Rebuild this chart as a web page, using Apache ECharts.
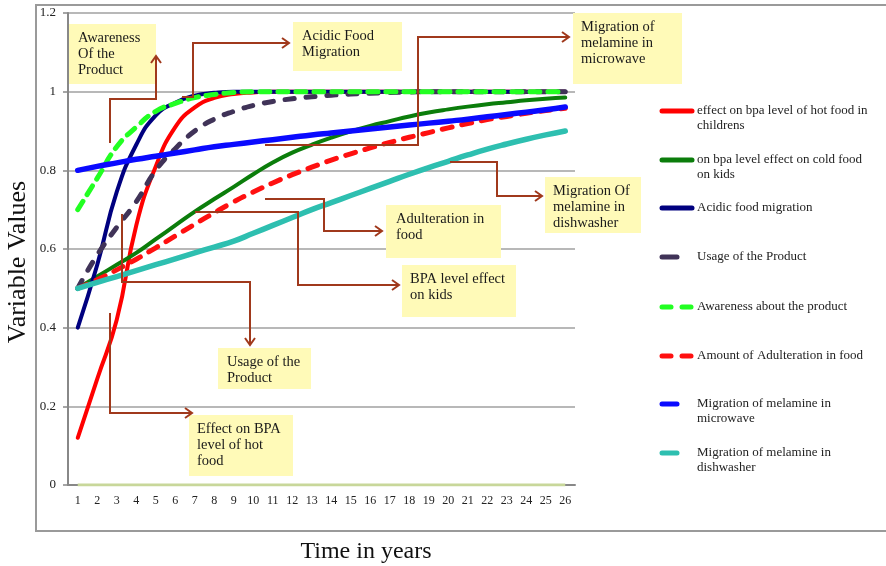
<!DOCTYPE html>
<html><head><meta charset="utf-8">
<script src="https://cdn.jsdelivr.net/npm/echarts@6/dist/echarts.min.js"></script>
<style>html,body{margin:0;padding:0;background:#fff}#c{width:886px;height:566px}</style>
</head><body><div id="c"></div>
<script>
const years = ['1','2','3','4','5','6','7','8','9','10','11','12','13','14','15','16','17','18','19','20','21','22','23','24','25','26'];
const yTicks = [0, 0.2, 0.4, 0.6, 0.8, 1, 1.2];

const hotFood = [0.12,0.27,0.42,0.66,0.81,0.91,0.96,0.984,0.994,0.998,1,1,1,1,1,1,1,1,1,1,1,1,1,1,1,1];
const coldFood = [0.50,0.53,0.56,0.59,0.625,0.66,0.695,0.727,0.758,0.79,0.82,0.845,0.865,0.883,0.899,0.913,0.925,0.937,0.947,0.955,0.962,0.968,0.973,0.978,0.982,0.985];
const acidic = [0.40,0.56,0.745,0.865,0.94,0.972,0.99,0.997,1,1,1,1,1,1,1,1,1,1,1,1,1,1,1,1,1,1];
const usage = [0.50,0.585,0.655,0.72,0.80,0.855,0.90,0.93,0.95,0.965,0.975,0.982,0.987,0.991,0.994,0.996,0.998,0.999,1,1,1,1,1,1,1,1];
const awareness = [0.70,0.78,0.86,0.91,0.95,0.97,0.985,0.993,0.998,1,1,1,1,1,1,1,1,1,1,1,1,1,1,1,1,1];
const adulteration = [0.50,0.522,0.547,0.574,0.603,0.633,0.663,0.692,0.72,0.745,0.768,0.789,0.808,0.826,0.842,0.857,0.871,0.884,0.896,0.908,0.919,0.929,0.937,0.945,0.952,0.958];
const microwave = [0.800,0.810,0.819,0.828,0.836,0.844,0.852,0.860,0.866,0.872,0.878,0.884,0.890,0.895,0.900,0.905,0.910,0.915,0.920,0.925,0.930,0.936,0.942,0.948,0.954,0.961];
const dishwasher = [0.50,0.515,0.53,0.545,0.56,0.575,0.59,0.605,0.62,0.64,0.66,0.68,0.70,0.718,0.736,0.754,0.772,0.79,0.807,0.823,0.839,0.854,0.867,0.879,0.89,0.90];
const baseline = [0,0,0,0,0,0,0,0,0,0,0,0,0,0,0,0,0,0,0,0,0,0,0,0,0,0];

const seriesNames = [
  'effect on bpa level of hot food in\nchildrens',
  'on bpa level effect on cold food\non kids',
  'Acidic food migration',
  'Usage of the Product',
  'Awareness about the product',
  'Amount of Adulteration in food',
  'Migration of melamine in\nmicrowave',
  'Migration of melamine in\ndishwasher'
];
const seriesData = [hotFood, coldFood, acidic, usage, awareness, adulteration, microwave, dishwasher];

const colors = ['#ff0000','#0b7d0b','#00007f','#403358','#22ff22','#ff1010','#0a0aff','#2ebfb0'];
const widths = [4,4,4,5,5,5,5.5,5.5];
const dashes = ['solid','solid','solid',[9,12],[10,8],[10,10],'solid','solid'];
const legendY = [111,160,208,257,307,356,404,453];
const legendKind = ['long','long','long','short','dash','dash','short','short'];

const annotations = [
  {lines:['Awareness','Of the','Product'], box:[69,24,87,60], tx:78, path:[[110,143],[110,99],[156,99],[156,56]], head:'up'},
  {lines:['Acidic Food','Migration'], box:[293,22,109,49], tx:302, path:[[182,97],[193,97],[193,43],[289,43]], head:'right'},
  {lines:['Migration of','melamine in','microwave'], box:[573,13,109,71], tx:581, path:[[265,145],[418,145],[418,37],[569,37]], head:'right'},
  {lines:['Migration Of','melamine in','dishwasher'], box:[545,177,96,56], tx:553, path:[[450,162],[497,162],[497,196],[542,196]], head:'right'},
  {lines:['Adulteration in','food'], box:[386,205,115,53], tx:396, path:[[265,199],[324,199],[324,231],[382,231]], head:'right'},
  {lines:['BPA level effect','on kids'], box:[402,265,114,52], tx:410, path:[[195,212],[298,212],[298,285],[399,285]], head:'right'},
  {lines:['Usage of the','Product'], box:[218,348,93,41], tx:227, path:[[122,214],[122,282],[250,282],[250,345]], head:'down'},
  {lines:['Effect on BPA','level of hot','food'], box:[189,415,104,61], tx:197, path:[[110,313],[110,413],[192,413]], head:'right'}
];

const chart = echarts.init(document.getElementById('c'), null, {renderer:'canvas'});
const serif = 'Liberation Serif, Times New Roman, serif';
const arrowColor = '#a0391c';

const series = seriesData.map((d, i) => ({
  name: seriesNames[i],
  type: 'line',
  data: d,
  symbol: 'none',
  smooth: true,
  lineStyle: {color: colors[i], width: widths[i], type: dashes[i], cap: 'round', join: 'round'},
  z: 3 + i
}));
series.unshift({
  name: 'base', type: 'line', data: baseline, symbol: 'none',
  lineStyle: {color: '#c8d79a', width: 3}, z: 2
});

const graphic = [];
graphic.push({type:'rect', shape:{x:36,y:5,width:870,height:526}, style:{fill:null, stroke:'#9a9a9a', lineWidth:2}, z:0, silent:true});
graphic.push({type:'text', x:18, y:262, rotation:Math.PI/2, style:{text:'Variable Values', font:'26px '+serif, fill:'#111', align:'center', verticalAlign:'middle'}, z:10});
graphic.push({type:'text', x:366, y:552, style:{text:'Time in years', font:'24px '+serif, fill:'#111', align:'center', verticalAlign:'middle'}, z:10});

seriesNames.forEach((nm, i) => {
  const y = legendY[i];
  const ls = {stroke: colors[i], lineWidth: 5, lineCap:'round'};
  if (legendKind[i] === 'long') {
    graphic.push({type:'line', shape:{x1:662,y1:y,x2:692,y2:y}, style:ls, z:10});
  } else if (legendKind[i] === 'short') {
    graphic.push({type:'line', shape:{x1:662,y1:y,x2:677,y2:y}, style:ls, z:10});
  } else {
    graphic.push({type:'line', shape:{x1:662,y1:y,x2:671,y2:y}, style:ls, z:10});
    graphic.push({type:'line', shape:{x1:682,y1:y,x2:691,y2:y}, style:ls, z:10});
  }
  graphic.push({type:'text', x:697, y:y-8, style:{text:nm, font:'13px '+serif, fill:'#222', lineHeight:15, align:'left', verticalAlign:'top'}, z:10});
});

annotations.forEach(a => {
  graphic.push({type:'rect', shape:{x:a.box[0], y:a.box[1], width:a.box[2], height:a.box[3]}, style:{fill:'#fffab8'}, z:20});
  graphic.push({type:'text', x:a.tx, y:a.box[1]+6, style:{text:a.lines.join('\n'), font:'14.5px '+serif, fill:'#1a1a1a', lineHeight:16, align:'left', verticalAlign:'top'}, z:21});
  graphic.push({type:'polyline', shape:{points:a.path}, style:{stroke:arrowColor, lineWidth:2, fill:null}, z:22});
  const e = a.path[a.path.length-1];
  let pts;
  if (a.head === 'right') pts = [[e[0]-7,e[1]-5],[e[0],e[1]],[e[0]-7,e[1]+5]];
  else if (a.head === 'up') pts = [[e[0]-5,e[1]+7],[e[0],e[1]],[e[0]+5,e[1]+7]];
  else pts = [[e[0]-5,e[1]-7],[e[0],e[1]],[e[0]+5,e[1]-7]];
  graphic.push({type:'polyline', shape:{points:pts}, style:{stroke:arrowColor, lineWidth:2, fill:null}, z:22});
});

chart.setOption({
  animation: false,
  backgroundColor: '#fff',
  grid: {left: 68, right: 311, top: 13, bottom: 81, containLabel: false},
  xAxis: {
    type: 'category', data: years, boundaryGap: true,
    axisLine: {lineStyle: {color: '#888', width: 2}},
    axisTick: {interval: 0, length: 4, lineStyle: {color: '#888', width: 1.5}},
    axisLabel: {interval: 0, margin: 10, color: '#222', fontFamily: serif, fontSize: 12},
    splitLine: {show: false}
  },
  yAxis: {
    type: 'value', min: yTicks[0], max: yTicks[yTicks.length-1], interval: 0.2,
    axisLine: {show: true, lineStyle: {color: '#888', width: 2}},
    axisTick: {show: true, length: 5, lineStyle: {color: '#888', width: 1.5}},
    axisLabel: {margin: 12, color: '#222', fontFamily: serif, fontSize: 13},
    splitLine: {lineStyle: {color: '#a0a0a0', width: 1.5}}
  },
  series: series,
  graphic: graphic
});
</script></body></html>
